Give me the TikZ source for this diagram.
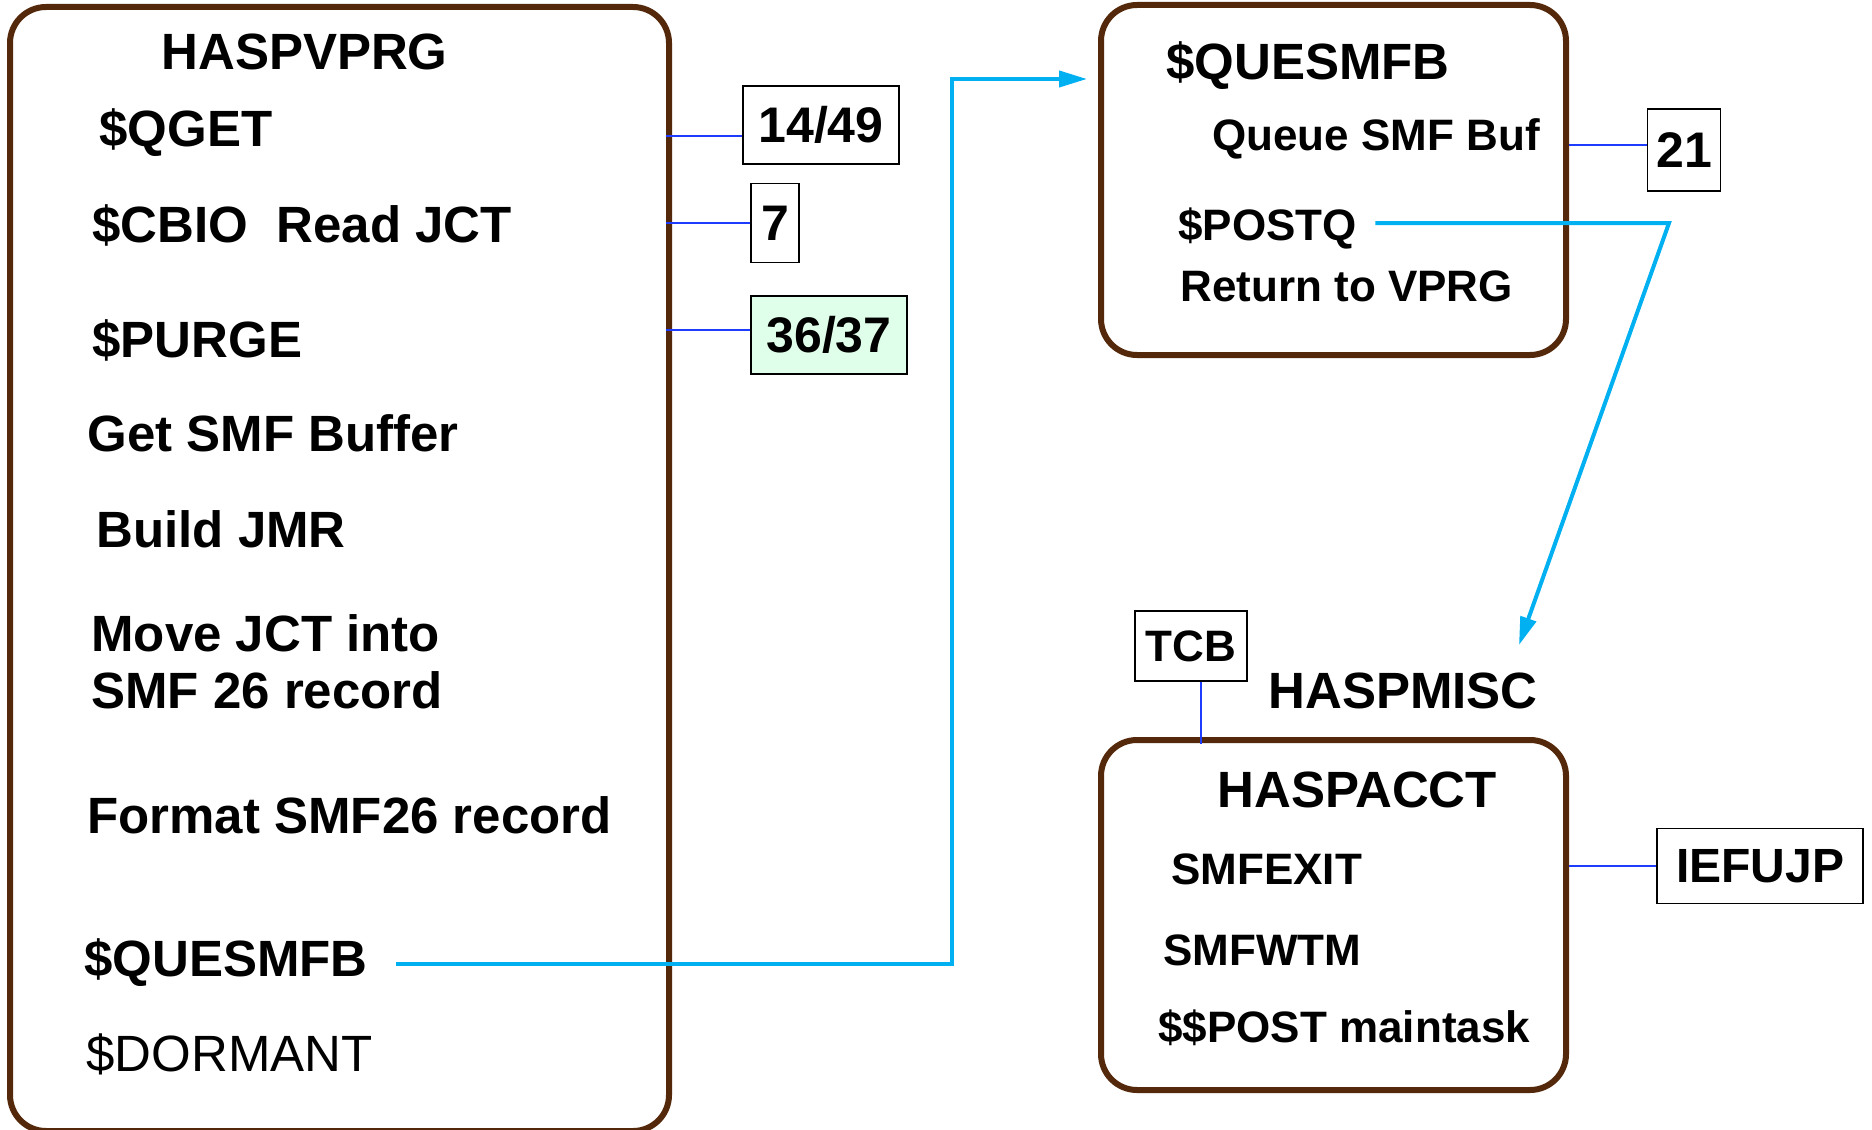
\documentclass[tikz,border=0pt]{standalone}
\usepackage{fontspec}
\setmainfont{Liberation Sans}
\usetikzlibrary{arrows.meta}
\definecolor{boxbrown}{RGB}{84,40,10}
\definecolor{flowcyan}{RGB}{0,176,240}
\definecolor{tagblue}{RGB}{30,60,255}
\definecolor{taggreen}{RGB}{224,255,234}
\tikzset{
x=0.5pt, y=-0.5pt, % one unit is one pixel of the slide, y runs downwards
module/.style={draw=boxbrown, line width=3pt, rounded corners=18pt, inner sep=0pt}, % the brown program boxes
big/.style={anchor=base west, inner sep=0pt, font=\bfseries\fontsize{25.5}{30}\selectfont}, % lines of text in the boxes
small/.style={big, font=\bfseries\fontsize{22}{26}\selectfont}, % the smaller lines
tag/.style={draw=black, line width=0.75pt, inner sep=0pt, font=\bfseries\fontsize{25}{30}\selectfont}, % little labelled boxes
link/.style={draw=tagblue, line width=0.75pt}, % thin lines to the tags
flow/.style={draw=flowcyan, line width=2pt, -{Triangle[length=14pt,width=8pt]}}, % control flow
}

\begin{document}
\begin{tikzpicture}
\useasboundingbox (0,0) rectangle (1872,1129);

\node[module, minimum width=329.5pt, minimum height=562pt] at (339.5,569) (vprg) {};
\node[module, minimum width=232.5pt, minimum height=175pt] at (1333.5,180) (quesmfb) {};
\node[module, minimum width=232.5pt, minimum height=175pt] at (1333.5,915) (acct) {};

\node[big] at (161,69) (vprgtitle) {HASPVPRG};
\node[big] at (99,147) (qget) {\$QGET};
\node[big] at (92,242) (cbio) {\$CBIO\ \ Read JCT};
\node[big] at (92,357) (purge) {\$PURGE};
\node[big] at (87,451) (getbuf) {Get SMF Buffer};
\node[big] at (96,547) (buildjmr) {Build JMR};
\node[big] at (91,651) (movejct) {Move JCT into};
\node[big] at (91,708) (movejctb) {SMF 26 record};
\node[big] at (87,833) (format) {Format SMF26 record};
\node[big] at (84,976) (callsmfb) {\$QUESMFB};
\node[big, font=\fontsize{25.5}{30}\selectfont] at (86,1071) (dormant) {\$DORMANT};

\node[big] at (1166,80) (smfbtitle) {\$QUESMFB};
\node[small] at (1212,150) (queuebuf) {Queue SMF Buf};
\node[small] at (1178,240) (postq) {\$POSTQ};
\node[small] at (1180,301) (retvprg) {Return to VPRG};

\node[big] at (1268,708) (misc) {HASPMISC};
\node[big] at (1217,807) (accttitle) {HASPACCT};
\node[small] at (1171,884) (smfexit) {SMFEXIT};
\node[small] at (1163,965) (smfwtm) {SMFWTM};
\node[small] at (1158,1042) (postmain) {\$\$POST maintask};

\node[tag, minimum width=78pt, minimum height=39pt] at (821,125) (t1449) {14/49};
\node[tag, minimum width=24pt, minimum height=39.5pt] at (775,223) (t7) {7};
\node[tag, fill=taggreen, minimum width=78pt, minimum height=39pt] at (829,335) (t3637) {36/37};
\node[tag, minimum width=36.5pt, minimum height=41pt] at (1684,150) (t21) {21};
\node[tag, font=\bfseries\fontsize{22}{26}\selectfont, minimum width=56pt, minimum height=35pt] at (1191,646) (ttcb) {TCB};
\node[tag, font=\bfseries\fontsize{24}{28}\selectfont, minimum width=103pt, minimum height=37.5pt] at (1760,866) (tiefujp) {IEFUJP};

\coordinate (turn1) at (952,79);
\coordinate (turn2) at (1669,223);
\coordinate (misctip) at (1519,645);

\draw[link] ([yshift=-5.5pt]t1449.west) -- ([xshift=-3pt,yshift=-5.5pt]t1449.west -| vprg.east);
\draw[link] (t7.west) -- ([xshift=-3pt]t7.west -| vprg.east);
\draw[link] ([yshift=2.5pt]t3637.west) -- ([xshift=-3pt,yshift=2.5pt]t3637.west -| vprg.east);
\draw[link] ([yshift=2.5pt]t21.west) -- ([yshift=2.5pt]t21.west -| quesmfb.east);
\draw[link] (tiefujp.west) -- (tiefujp.west -| acct.east);
\draw[link] ([xshift=5pt]ttcb.south) -- ([xshift=5pt,yshift=-3.5pt]ttcb.south |- acct.north);

\draw[flow] ([xshift=14pt,yshift=6pt]callsmfb.base east) -| (turn1) -- ([xshift=-5.5pt]quesmfb.west |- turn1);
\draw[flow] ([xshift=9pt,yshift=8.5pt]postq.base east) -- (turn2) -- (misctip);
\end{tikzpicture}
\end{document}
